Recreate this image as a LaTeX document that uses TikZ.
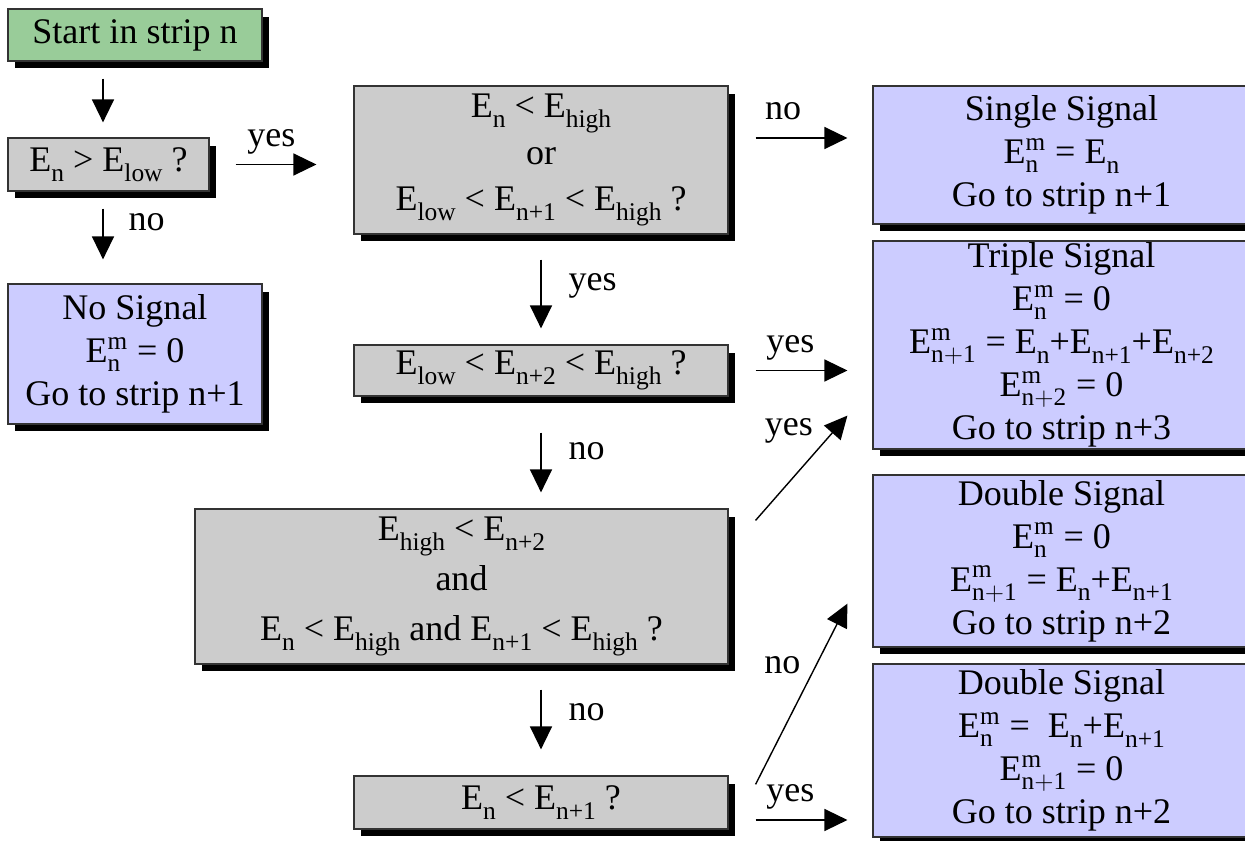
\documentclass[tikz,border=0pt]{standalone}
\usepackage{fontspec}
\setmainfont{Liberation Serif}
\usetikzlibrary{positioning, arrows.meta, shadows}
\definecolor{startgreen}{HTML}{99CC99}
\definecolor{testgray}{HTML}{CCCCCC}
\definecolor{resblue}{HTML}{CCCCFF}
\newcommand{\Es}[1]{E\raisebox{-0.27em}{\fontsize{14.5}{14.5}\selectfont #1}}
\newcommand{\Em}[1]{\ensuremath{\mathrm{E}^{\mathrm{m}}_{\mathrm{#1}}}}

\tikzset{
  box/.style={draw=black!80, line width=0.7pt, inner sep=0pt, align=center,
    font=\fontsize{20.5}{24.5}\selectfont,
    drop shadow={shadow xshift=0.14cm, shadow yshift=-0.15cm, fill=black, opacity=1}},
  startbox/.style={box, fill=startgreen},
  testbox/.style={box, fill=testgray},
  resbox/.style={box, fill=resblue},
  arr/.style={line width=0.8pt, -{Triangle[length=0.46cm, width=0.44cm]}},
  lbl/.style={inner sep=0pt, font=\fontsize{20.5}{24}\selectfont},
  toplbl/.style={lbl, anchor=base, yshift=0.37cm}
}

\begin{document}
\begin{tikzpicture}[x=0.02cm, y=-0.02cm]
  \useasboundingbox (0,0) rectangle (1245,841);
  \clip (0,0) rectangle (1245,841);

  % left column
  \node[startbox, minimum width=5.08cm, minimum height=1.04cm] (start) at (135,35) {Start in strip n};
  \node[testbox, minimum width=4.02cm, minimum height=1.06cm] (cond1) at (108.5,164.5) {\Es{n} > \Es{low} ?};
  \node[resbox, minimum width=5.08cm, minimum height=2.8cm] (nosig) at (135,354)
    {No Signal\\ \Em{n} = 0\\ Go to strip n+1};

  % middle column
  \node[testbox, minimum width=7.48cm, minimum height=2.96cm] (cond2) at (541,160)
    {\Es{n} < \Es{high}\\[2pt] or\\[2pt] \Es{low} < \Es{n+1} < \Es{high} ?};
  \node[testbox, minimum width=7.48cm, minimum height=1.02cm] (cond3) at (541,370.5)
    {\Es{low} < \Es{n+2} < \Es{high} ?};
  \node[testbox, minimum width=10.66cm, minimum height=3.1cm] (cond4) at (461.5,586.5)
    {\Es{high} < \Es{n+2}\\[4pt] and\\[4pt] \Es{n} < \Es{high} and \Es{n+1} < \Es{high} ?};
  \node[testbox, minimum width=7.48cm, minimum height=1.06cm] (cond5) at (541,802.5)
    {\Es{n} < \Es{n+1} ?};

  % right column, boxes run past the page edge
  \node[resbox, minimum width=8cm, minimum height=2.76cm] (single) at (1073,155)
    {\hspace*{-0.46cm}Single Signal\\ \hspace*{-0.46cm}\Em{n} = \Es{n}\\ \hspace*{-0.46cm}Go to strip n+1};
  \node[resbox, minimum width=8cm, minimum height=4.16cm] (triple) at (1073,345)
    {\hspace*{-0.46cm}Triple Signal\\ \hspace*{-0.46cm}\Em{n} = 0\\ \hspace*{-0.46cm}\Em{n+1} = \Es{n}+\Es{n+1}+\Es{n+2}\\ \hspace*{-0.46cm}\Em{n+2} = 0\\ \hspace*{-0.46cm}Go to strip n+3};
  \node[resbox, minimum width=8cm, minimum height=3.44cm] (double1) at (1073,561)
    {\hspace*{-0.46cm}Double Signal\\ \hspace*{-0.46cm}\Em{n} = 0\\ \hspace*{-0.46cm}\Em{n+1} = \Es{n}+\Es{n+1}\\ \hspace*{-0.46cm}Go to strip n+2};
  \node[resbox, minimum width=8cm, minimum height=3.46cm] (double2) at (1073,750.5)
    {\hspace*{-0.46cm}Double Signal\\ \hspace*{-0.46cm}\Em{n} = \ \Es{n}+\Es{n+1}\\ \hspace*{-0.46cm}\Em{n+1} = 0\\ \hspace*{-0.46cm}Go to strip n+2};

  % arrows, left
  \coordinate (colL) at (103,0);
  \draw[arr, shorten <=0.34cm, shorten >=0.3cm] (start.south -| colL) -- (cond1.north -| colL);
  \draw[arr, shorten <=0.34cm, shorten >=0.48cm] (cond1.south -| colL) -- (nosig.north -| colL)
    node[lbl, pos=0.33, right=0.5cm] {no};
  \draw[arr, shorten <=0.52cm, shorten >=0.74cm] (cond1.east) -- (cond1.east -| cond2.west)
    node[toplbl, pos=0.43] {yes};

  % arrows, middle
  \draw[arr, shorten <=0.5cm, shorten >=0.32cm] (cond2.south) -- (cond3.north)
    node[lbl, pos=0.47, right=0.54cm] {yes};
  \draw[arr, shorten <=0.72cm, shorten >=0.32cm] (cond3.south) -- (cond3.south |- cond4.north)
    node[lbl, pos=0.49, right=0.54cm] {no};
  \draw[arr, shorten <=0.5cm, shorten >=0.52cm] (cond3.south |- cond4.south) -- (cond5.north)
    node[lbl, pos=0.43, right=0.54cm] {no};

  % arrows, right
  \coordinate (noA) at ([yshift=0.44cm]cond2.east);
  \draw[arr, shorten <=0.54cm, shorten >=0.5cm] (noA) -- (noA -| single.west)
    node[toplbl, pos=0.38] {no};
  \draw[arr, shorten <=0.54cm, shorten >=0.5cm] (cond3.east) -- (cond3.east -| triple.west)
    node[toplbl, pos=0.43] {yes};
  \draw[arr] ([shift={(27,12)}]cond4.north east) -- ([shift={(-25,-34)}]triple.south west)
    node[lbl, pos=0.85, left=0.4cm] {yes};
  \draw[arr] ([shift={(27,9)}]cond5.north east) -- ([shift={(-25,-44)}]double1.south west)
    node[lbl, pos=0.66, left=0.3cm] {no};
  \coordinate (yesE) at ([yshift=-0.35cm]cond5.east);
  \draw[arr, shorten <=0.54cm, shorten >=0.5cm] (yesE) -- (yesE -| double2.west)
    node[toplbl, pos=0.43] {yes};
\end{tikzpicture}
\end{document}
